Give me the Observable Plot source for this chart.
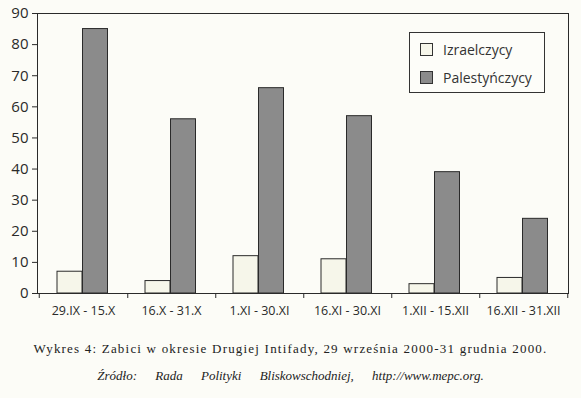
<!DOCTYPE html>
<html>
<head>
<meta charset="utf-8">
<script src="https://cdn.jsdelivr.net/npm/d3@7"></script>
<script src="https://cdn.jsdelivr.net/npm/@observablehq/plot@0.6"></script>
<style>
  html, body { margin: 0; padding: 0; background: #fcfcf7; }
  #wrap { position: relative; width: 581px; height: 398px; overflow: hidden; }
  #legend { position: absolute; left: 409px; top: 32px; width: 134px; height: 59px;
            border: 1px solid #333; background: #fdfdf9; font-family: "Open Sans", sans-serif;
            font-size: 14px; color: #333; }
  .item { position: absolute; left: 10px; display: flex; align-items: center; }
  .sw { width: 13px; height: 13px; border: 1px solid #333; box-sizing: border-box; margin-right: 10px; }
  .cap { font-family: "Liberation Serif", serif; font-size: 13px; color: #222; text-align: center; }
  #cap1 { position: absolute; top: 341px; left: 0; width: 581px; letter-spacing: 1.2px; }
  #cap2 { position: absolute; top: 368px; left: 0; width: 581px; font-style: italic; word-spacing: 15px; }
</style>
</head>
<body>
<div id="wrap">
  <div id="chart"></div>
  <div id="legend"></div>
  <div id="cap1" class="cap">Wykres 4: Zabici w okresie Drugiej Intifady, 29 września 2000-31 grudnia 2000.</div>
  <div id="cap2" class="cap">Źródło: Rada Polityki Bliskowschodniej, http://www.mepc.org.</div>
</div>
<script>
const periods = ["29.IX - 15.X", "16.X - 31.X", "1.XI - 30.XI", "16.XI - 30.XI", "1.XII - 15.XII", "16.XII - 31.XII"];
const series = ["Izraelczycy", "Palestyńczycy"];
const israeli = [7, 4, 12, 11, 3, 5];
const palestinian = [85, 56, 66, 57, 39, 24];
const yTicks = [0, 10, 20, 30, 40, 50, 60, 70, 80, 90];
const colors = ["#f6f6ea", "#8b8b8b"];

const rowsI = periods.map((p, i) => ({period: p, series: series[0], value: israeli[i]}));
const rowsP = periods.map((p, i) => ({period: p, series: series[1], value: palestinian[i]}));

const W = 581, H = 325, ML = 37, MR = 13, MT = 13, MB = 32;
const bw = (W - ML - MR) / periods.length;

const chart = Plot.plot({
  width: W, height: H,
  marginLeft: ML, marginRight: MR, marginTop: MT, marginBottom: MB,
  style: {background: "transparent", color: "#2a2a2a"},
  x: {domain: periods, padding: 0, axis: null},
  y: {domain: [0, 90], axis: null},
  color: {domain: series, range: colors},
  marks: [
    Plot.barY(rowsI, {x: "period", y: "value", fill: "series", stroke: "#2a2a2a", strokeWidth: 1,
      insetLeft: 18, insetRight: bw - 43.5}),
    Plot.barY(rowsP, {x: "period", y: "value", fill: "series", stroke: "#2a2a2a", strokeWidth: 1,
      insetLeft: 43.5, insetRight: bw - 69}),
    Plot.frame({stroke: "#2a2a2a", strokeWidth: 1}),
    Plot.axisY({ticks: yTicks, tickSize: 5, tickPadding: 4, fontSize: 15,
      fontFamily: "Open Sans", label: null}),
    Plot.axisX({tickSize: 0, tickPadding: 13, fontSize: 12.5, fontFamily: "Open Sans", label: null}),
    Plot.axisX({tickSize: 5, tickFormat: () => "", dx: bw / 2, label: null}),
    Plot.axisX({ticks: [periods[0]], tickSize: 5, tickFormat: () => "", dx: -bw / 2, label: null})
  ]
});
document.getElementById("chart").appendChild(chart);

const color = chart.scale("color");
const legend = document.getElementById("legend");
series.forEach((s, i) => {
  const item = document.createElement("div");
  item.className = "item";
  item.style.top = (i === 0 ? 7 : 35) + "px";
  const sw = document.createElement("div");
  sw.className = "sw";
  sw.style.background = color.apply(s);
  const t = document.createElement("span");
  t.textContent = s;
  item.appendChild(sw); item.appendChild(t);
  legend.appendChild(item);
});
</script>
</body>
</html>
